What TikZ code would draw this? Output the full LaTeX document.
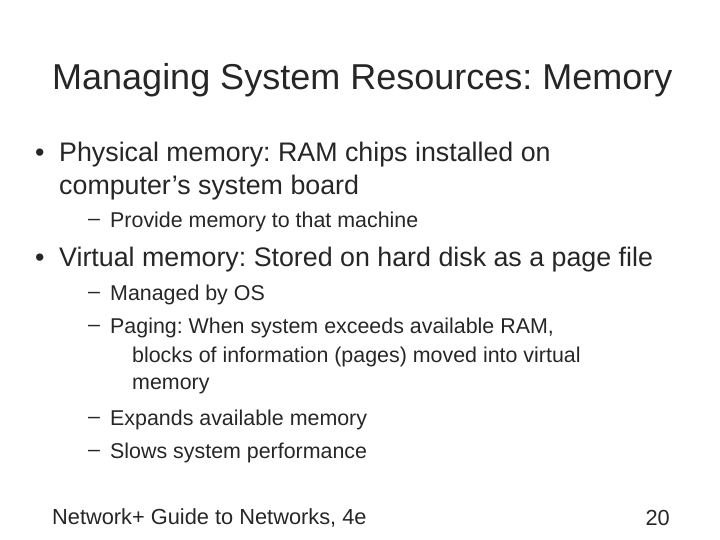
\documentclass[tikz,border=0pt]{standalone}
\usepackage{fontspec}
\setmainfont{Liberation Sans}
\frenchspacing
\begin{document}
\begin{tikzpicture}[x=1pt,y=-1pt,
  every node/.style={inner sep=0pt,anchor=west,text=black!85},
  ttl/.style={font=\fontsize{36}{40}\selectfont},
  lone/.style={font=\fontsize{26.8}{30}\selectfont},
  ltwo/.style={font=\fontsize{21.4}{25}\selectfont},
  foot/.style={font=\fontsize{21.8}{25}\selectfont}]
\useasboundingbox (0,0) rectangle (720,540);
\begin{scope}[yshift=-3pt]
\node[ttl] (t) at (52,77) {Managing System Resources: Memory};
\node[lone] (b1) at (35,152) {•};
\node[lone] (l1) at (59,152) {Physical memory: RAM chips installed on};
\node[lone] (l1b) at (59,185) {computer’s system board};
\node[ltwo] (d1) at (88,219) {–};
\node[ltwo] (s1) at (110,219) {Provide memory to that machine};
\node[lone] (b2) at (35,257) {•};
\node[lone] (l2) at (59,257) {Virtual memory: Stored on hard disk as a page file};
\node[ltwo] (d2) at (88,292) {–};
\node[ltwo] (s2) at (110,292) {Managed by OS};
\node[ltwo] (d3) at (88,325) {–};
\node[ltwo] (s3) at (110,325) {Paging: When system exceeds available RAM,};
\node[ltwo] (s3b) at (132,354) {blocks of information (pages) moved into virtual};
\node[ltwo] (s3c) at (132,383) {memory};
\node[ltwo] (d4) at (88,417) {–};
\node[ltwo] (s4) at (110,417) {Expands available memory};
\node[ltwo] (d5) at (88,450) {–};
\node[ltwo] (s5) at (110,450) {Slows system performance};
\node[foot] (f1) at (52,515) {Network+ Guide to Networks, 4e};
\node[foot,anchor=east] (f2) at (670,515) {20};
\end{scope}
\end{tikzpicture}
\end{document}
